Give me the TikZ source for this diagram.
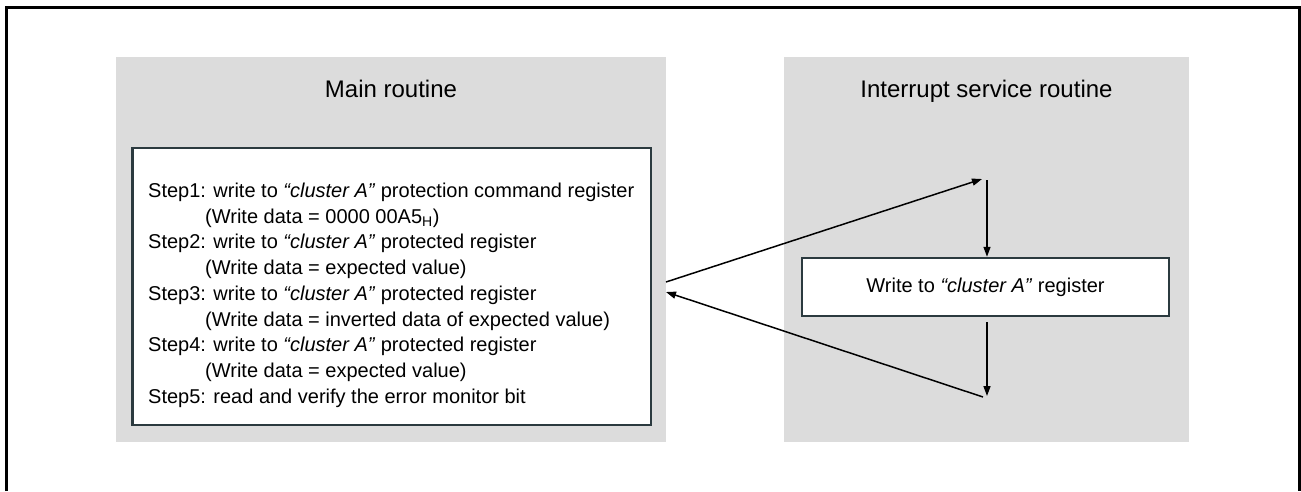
\documentclass[tikz,border=0pt]{standalone}
\usepackage{fontspec}
\setmainfont{Liberation Sans}
\usepackage{tikz}
\usetikzlibrary{positioning,arrows.meta,calc}
\definecolor{panelgray}{HTML}{DCDCDC}
\definecolor{boxline}{HTML}{2B3A3F}

\begin{document}
\begin{tikzpicture}[
  x=1pt, y=-1pt,
  panel/.style   ={rectangle, fill=panelgray, inner sep=0pt, outer sep=0pt},
  regbox/.style  ={draw=boxline, line width=2.5pt, fill=white, inner sep=0pt},
  title/.style   ={font=\fontsize{24}{28}\selectfont, inner sep=0pt},
  steptext/.style={align=left, inner sep=0pt, font=\fontsize{20}{25.75}\selectfont},
  flow/.style    ={line width=1.5pt, -{Triangle[length=10pt,width=7pt]}},
  every node/.style={font=\fontsize{20}{24}\selectfont},
]
\useasboundingbox (0,0) rectangle (1301,491);
\draw[line width=3pt] (6,491) -- (6,7) -- (1299,7) -- (1299,491);

\node[panel, minimum width=550pt, minimum height=385pt] (main) at (391,249.5) {};
\node[panel, minimum width=405pt, minimum height=385pt] (isr)  at (986.5,249.5) {};
\node[title, anchor=base] (maintitle) at ([yshift=-40pt]main.north) {Main routine};
\node[title, anchor=base] (isrtitle)  at ([yshift=-40pt]isr.north) {Interrupt service routine};

\node[regbox, minimum width=518.5pt, minimum height=277pt] (steps) at (391.5,286.5) {};
\node[steptext, below right=36pt and 17pt of steps.north west] (stepstext) {%
  Step1: write to \textit{“cluster A”} protection command register\\
  \hspace*{57pt}(Write data = 0000 00A5\textsubscript{H})\\
  Step2: write to \textit{“cluster A”} protected register\\
  \hspace*{57pt}(Write data = expected value)\\
  Step3: write to \textit{“cluster A”} protected register\\
  \hspace*{57pt}(Write data = inverted data of expected value)\\
  Step4: write to \textit{“cluster A”} protected register\\
  \hspace*{57pt}(Write data = expected value)\\
  Step5: read and verify the error monitor bit};

\node[regbox, minimum width=367pt, minimum height=58pt] (write) at (985.5,287)
  {Write to \textit{“cluster A”} register};

\coordinate (callpt) at (666,282);
\coordinate (retpt)  at (666,292);
\coordinate (isrtop) at (987,180);
\coordinate (isrbot) at (987,396);

\draw[flow] (callpt) -- ([xshift=-5pt,yshift=1pt]isrtop);
\draw[flow] (isrtop) -- (isrtop |- write.north);
\draw[flow, shorten <=5pt] (isrtop |- write.south) -- (isrbot);
\draw[flow] ([xshift=-4pt,yshift=-1pt]isrbot) -- (retpt);
\end{tikzpicture}
\end{document}
